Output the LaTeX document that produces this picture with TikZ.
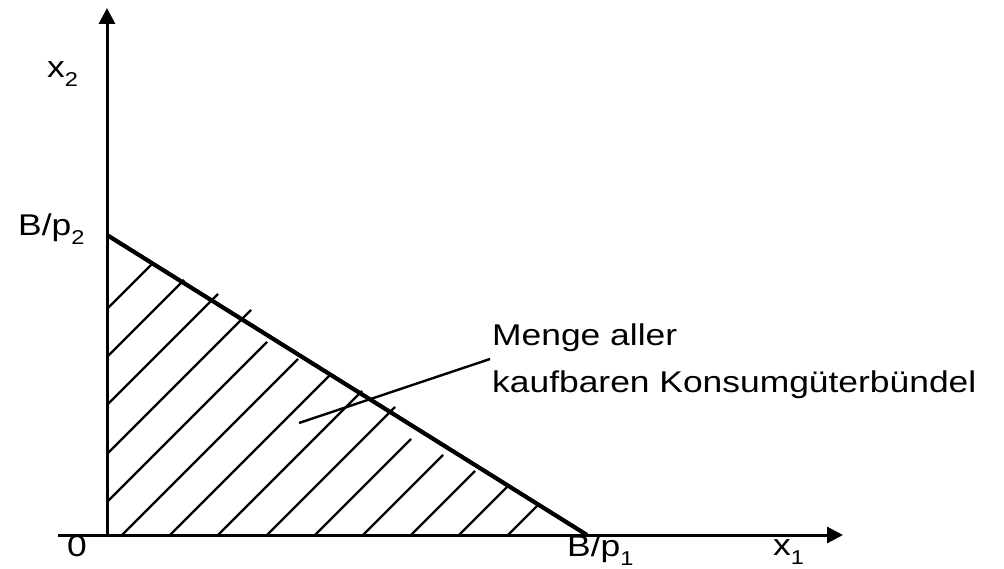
\documentclass[tikz,border=0pt]{standalone}
\usepackage{fontspec}
\setmainfont{Liberation Sans}[FakeStretch=1.18]
\usetikzlibrary{arrows.meta}

\newcommand{\lowidx}[1]{\raisebox{-9pt}{\fontsize{20}{20}\selectfont #1}}

\begin{document}
\begin{tikzpicture}[
    x=1pt, y=-1pt,
    >={Triangle[length=16pt,width=16pt]},
    axis/.style   = {line width=3pt},
    budget/.style = {line width=4.2pt},
    hatch/.style  = {line width=2.4pt},
    lbl/.style    = {inner sep=0pt, anchor=base west,
                     font=\fontsize{30}{47}\selectfont, align=left},
]
\useasboundingbox (0,0) rectangle (1004,569);

% axes
\coordinate (xstart) at (58,535);
\coordinate (orig)   at (107,535);
\coordinate (xend)   at (843,535);
\coordinate (yend)   at (107,8);
\draw[axis, ->] (xstart) -- (xend);
\draw[axis, ->] (orig) -- (yend);

% budget line
\coordinate (ymax) at (107,235);
\coordinate (xmax) at (587,535);
\draw[budget] (ymax) -- (xmax);

% hatching (x+y = c, hand-drawn ends)
\foreach \c/\xe in {416/153, 464/184, 512/218, 561/251, 609/267, 657/298,
                    705/331, 753/362, 802/395, 850/411, 898/443, 946/475,
                    994/508, 1043/538} {
  \pgfmathsetmacro{\xs}{max(107,\c-535)}
  \draw[hatch] (\xs,\c-\xs) -- (\xe,\c-\xe);
}

% labels
\node[lbl] (lx2)  at (47,78)   {x\lowidx{2}};
\node[lbl] (lbp2) at (18,236)  {B/p\lowidx{2}};
\node[lbl] (lnul) at (67,556)  {0};
\node[lbl] (lbp1) at (567,556) {B/p\lowidx{1}};
\node[lbl] (lx1)  at (773,555) {x\lowidx{1}};
% base of a two-line node is its last line
\node[lbl] (menge) at (492,392) {Menge aller\\kaufbaren Konsumgüterbündel};

% pointer
\coordinate (inset) at (299,423);
\coordinate (ptrend) at (490,359);
\draw[hatch] (inset) -- (ptrend);
\end{tikzpicture}
\end{document}
